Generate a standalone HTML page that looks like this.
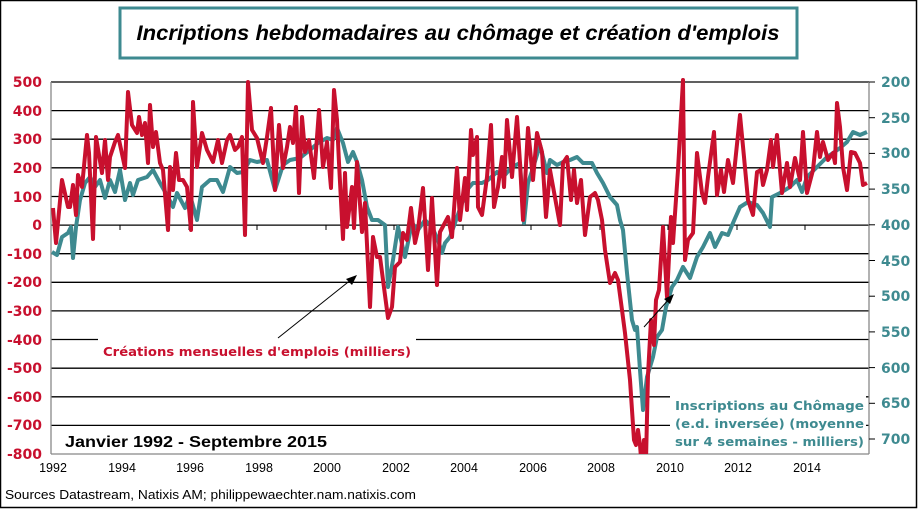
<!DOCTYPE html>
<html><head><meta charset="utf-8"><style>body{margin:0;background:#fff}svg{display:block}</style></head><body>
<svg width="918" height="509" viewBox="0 0 918 509" xmlns="http://www.w3.org/2000/svg" font-family="Liberation Sans, DejaVu Sans, sans-serif">
<rect x="0.5" y="0.5" width="916" height="507" fill="#fff" stroke="#000" stroke-width="1.5"/>
<rect x="120" y="8" width="677" height="50" fill="#fff" stroke="#3e8a90" stroke-width="3"/>
<text x="458" y="40" text-anchor="middle" font-size="21" font-weight="bold" font-style="italic" textLength="643" lengthAdjust="spacingAndGlyphs">Incriptions hebdomadaires au chômage et création d'emplois</text>
<g stroke="#000" stroke-width="1.3">
<line x1="51" x2="869" y1="82" y2="82"/><line x1="51" x2="869" y1="110.6" y2="110.6"/><line x1="51" x2="869" y1="139.2" y2="139.2"/><line x1="51" x2="869" y1="167.8" y2="167.8"/><line x1="51" x2="869" y1="196.5" y2="196.5"/><line x1="51" x2="869" y1="225.1" y2="225.1"/><line x1="51" x2="869" y1="253.7" y2="253.7"/><line x1="51" x2="869" y1="282.3" y2="282.3"/><line x1="51" x2="869" y1="310.9" y2="310.9"/><line x1="51" x2="869" y1="339.5" y2="339.5"/><line x1="51" x2="869" y1="368.2" y2="368.2"/><line x1="51" x2="869" y1="396.8" y2="396.8"/><line x1="51" x2="869" y1="425.4" y2="425.4"/>
</g>
<line x1="51" x2="869" y1="454" y2="454" stroke="#888" stroke-width="1.3"/>
<line x1="51" x2="51" y1="82" y2="454" stroke="#888" stroke-width="1.3"/>
<line x1="869" x2="869" y1="82" y2="454" stroke="#888" stroke-width="1.3"/>
<g stroke="#000" stroke-width="1">
<line x1="120" x2="120" y1="225" y2="230"/><line x1="189" x2="189" y1="225" y2="230"/><line x1="257" x2="257" y1="225" y2="230"/><line x1="326" x2="326" y1="225" y2="230"/><line x1="394" x2="394" y1="225" y2="230"/><line x1="463" x2="463" y1="225" y2="230"/><line x1="531" x2="531" y1="225" y2="230"/><line x1="600" x2="600" y1="225" y2="230"/><line x1="668" x2="668" y1="225" y2="230"/><line x1="737" x2="737" y1="225" y2="230"/><line x1="805" x2="805" y1="225" y2="230"/>
<line x1="869" x2="875" y1="82" y2="82"/><line x1="869" x2="875" y1="117.7" y2="117.7"/><line x1="869" x2="875" y1="153.4" y2="153.4"/><line x1="869" x2="875" y1="189.1" y2="189.1"/><line x1="869" x2="875" y1="224.8" y2="224.8"/><line x1="869" x2="875" y1="260.5" y2="260.5"/><line x1="869" x2="875" y1="296.2" y2="296.2"/><line x1="869" x2="875" y1="331.9" y2="331.9"/><line x1="869" x2="875" y1="367.6" y2="367.6"/><line x1="869" x2="875" y1="403.3" y2="403.3"/><line x1="869" x2="875" y1="439" y2="439"/>
</g>
<g font-family="DejaVu Sans, sans-serif" font-weight="bold" font-size="14" fill="#c8102e" text-anchor="end">
<text x="42" y="87">500</text><text x="42" y="116">400</text><text x="42" y="144">300</text><text x="42" y="173">200</text><text x="42" y="202">100</text><text x="42" y="230">0</text><text x="42" y="259">-100</text><text x="42" y="287">-200</text><text x="42" y="316">-300</text><text x="42" y="345">-400</text><text x="42" y="373">-500</text><text x="42" y="402">-600</text><text x="42" y="430">-700</text><text x="42" y="459">-800</text>
</g>
<g font-family="DejaVu Sans, sans-serif" font-weight="bold" font-size="14" fill="#3e8a90">
<text x="881" y="87">200</text><text x="881" y="123">250</text><text x="881" y="158">300</text><text x="881" y="194">350</text><text x="881" y="230">400</text><text x="881" y="266">450</text><text x="881" y="301">500</text><text x="881" y="337">550</text><text x="881" y="373">600</text><text x="881" y="408">650</text><text x="881" y="444">700</text>
</g>
<g font-size="12.5" text-anchor="middle" fill="#000">
<text x="53" y="472">1992</text><text x="122" y="472">1994</text><text x="190" y="472">1996</text><text x="259" y="472">1998</text><text x="327" y="472">2000</text><text x="396" y="472">2002</text><text x="464" y="472">2004</text><text x="533" y="472">2006</text><text x="601" y="472">2008</text><text x="670" y="472">2010</text><text x="738" y="472">2012</text><text x="807" y="472">2014</text>
</g>
<text x="5" y="499" font-size="12.5" textLength="411" lengthAdjust="spacingAndGlyphs">Sources Datastream, Natixis AM; philippewaechter.nam.natixis.com</text>
<clipPath id="c"><rect x="51" y="78" width="818" height="376"/></clipPath>
<g clip-path="url(#c)" fill="none" stroke-linejoin="round" stroke-width="4">
<polyline stroke="#3e8a90" points="52,252 57,255 62,237 68,233 71,227 73,258 76,227 80,200 85,183 90,177 95,187 100,180 105,198 110,180 115,192 120,170 125,200 130,183 133,195 138,180 147,177 153,170 160,183 168,197 173,207 177,193 185,208 190,195 197,220 202,187 210,180 217,180 223,192 230,167 237,173 243,172 250,160 257,162 267,160 275,190 283,165 290,160 300,158 310,150 318,143 327,138 333,140 337,128 343,143 348,162 353,152 357,162 362,180 367,207 372,220 378,220 385,225 388,287 393,260 398,227 405,257 412,223 418,230 425,220 432,227 438,240 442,253 445,243 450,237 455,223 462,203 467,190 473,183 482,183 488,180 497,172 503,177 512,167 520,163 524,223 528,183 533,168 540,145 547,173 550,160 557,165 563,162 570,160 577,157 583,163 592,163 597,173 603,183 610,197 617,205 620,220 623,230 627,273 632,320 635,330 637,327 640,370 643,410 647,377 653,357 657,337 662,330 666,307 672,287 677,280 683,267 690,278 697,257 703,247 710,233 715,247 722,233 728,235 733,223 740,207 748,202 757,205 763,213 770,227 772,197 780,193 790,187 797,180 802,192 807,177 817,167 827,157 833,153 840,148 847,142 853,132 860,135 867,132"/>
<polyline stroke="#c8102e" points="53,208 56,243 62,180 68,207 70,207 73,185 76,215 78,175 82,187 87,135 89,153 93,239 96,137 102,173 105,140 108,180 110,157 115,142 118,135 125,168 128,92 132,125 137,133 139,117 142,135 145,123 148,163 150,105 153,147 156,132 160,163 163,170 168,230 170,167 173,190 176,153 179,180 183,180 187,187 191,230 193,102 197,167 202,133 207,150 213,162 218,140 222,163 227,140 230,135 235,150 238,147 242,137 245,235 248,82 252,130 257,138 263,163 267,137 271,108 275,190 279,125 283,168 287,147 290,127 293,143 296,107 299,193 302,117 305,152 309,140 314,178 319,110 323,167 327,142 331,188 334,90 337,120 339,163 343,239 345,173 347,227 352,187 354,228 357,162 362,232 365,203 370,307 373,237 377,257 380,257 388,318 392,307 395,267 400,262 403,233 407,240 411,208 415,243 418,230 423,188 428,270 432,198 437,285 440,232 448,217 452,237 457,168 460,220 465,178 467,210 471,130 473,155 477,137 478,207 482,215 487,177 491,125 494,207 498,187 502,157 504,187 507,120 512,177 517,117 520,163 523,220 528,128 533,180 537,133 542,152 546,217 550,170 560,225 563,163 567,157 571,200 574,170 577,203 581,180 585,235 590,197 595,193 598,200 602,220 605,250 610,283 615,273 618,280 622,310 625,333 630,380 632,410 634,440 636,445 638,430 640,445 642,470 644,440 646,460 648,375 651,320 654,345 656,300 659,290 663,227 667,297 671,217 673,243 678,170 683,80 685,260 688,240 693,233 697,153 702,193 705,203 708,177 714,132 717,195 721,170 724,192 728,160 733,183 740,115 744,157 748,200 753,215 757,172 761,170 763,185 767,170 771,140 773,167 777,135 782,193 787,163 790,187 795,158 800,180 803,132 807,193 813,170 817,132 820,157 823,142 828,160 833,153 835,163 837,103 840,127 843,167 847,190 851,152 855,153 860,163 863,185 867,183"/>
</g>
<rect x="98" y="338" width="318" height="27" fill="#fff"/>
<text x="103" y="356" font-family="DejaVu Sans, sans-serif" font-weight="bold" font-size="12.5" fill="#c8102e" textLength="308" lengthAdjust="spacingAndGlyphs">Créations mensuelles d'emplois (milliers)</text>
<rect x="670" y="393" width="196" height="57" fill="#fff"/>
<g font-family="DejaVu Sans, sans-serif" font-weight="bold" font-size="12.5" fill="#3e8a90" text-anchor="end">
<text x="864" y="410" textLength="189" lengthAdjust="spacingAndGlyphs">Inscriptions  au Chômage</text>
<text x="864" y="428" textLength="189" lengthAdjust="spacingAndGlyphs">(e.d. inversée) (moyenne</text>
<text x="864" y="446" textLength="189" lengthAdjust="spacingAndGlyphs">sur 4 semaines - milliers)</text>
</g>
<text x="65" y="447" font-weight="bold" font-size="15.5" textLength="262" lengthAdjust="spacingAndGlyphs">Janvier 1992 - Septembre 2015</text>
<g stroke="#000" stroke-width="1">
<line x1="278" y1="338" x2="352" y2="279"/>
<line x1="644" y1="327" x2="670" y2="298"/>
</g>
<polygon points="357,275 346,279 352,285" fill="#000"/>
<polygon points="674,294 664,299 670,304" fill="#000"/>
</svg>
</body></html>
